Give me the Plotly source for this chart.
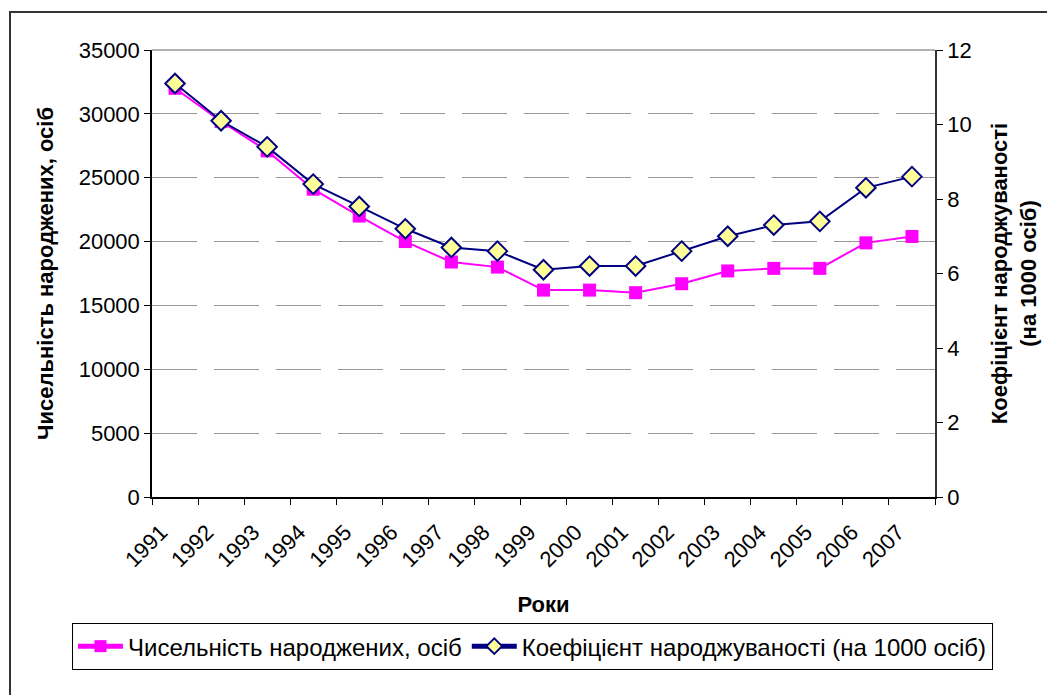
import plotly.graph_objects as go

years = [str(y) for y in range(1991, 2008)]
births = [32000, 29400, 27100, 24100, 22000, 20000, 18400, 18000, 16200,
          16200, 16000, 16700, 17700, 17900, 17900, 19900, 20400]
birth_rate = [11.1, 10.1, 9.4, 8.4, 7.8, 7.2, 6.7, 6.6, 6.1,
              6.2, 6.2, 6.6, 7.0, 7.3, 7.4, 8.3, 8.6]

name1 = "Чисельність народжених, осіб"
name2 = "Коефіцієнт народжуваності (на 1000 осіб)"

FONT = "Arial, Liberation Sans, sans-serif"
FS = 22

fig = go.Figure()
fig.add_trace(go.Scatter(
    x=years, y=births, name=name1, mode="lines+markers",
    line=dict(color="#FF00FF", width=2),
    marker=dict(symbol="square", size=13, color="#FF00FF"),
))
fig.add_trace(go.Scatter(
    x=years, y=birth_rate, name=name2, mode="lines+markers", yaxis="y2",
    line=dict(color="#000080", width=2),
    marker=dict(symbol="diamond", size=15, color="#FFFF99",
                line=dict(color="#000080", width=2)),
))

fig.update_layout(
    template="none",
    width=1055, height=695,
    paper_bgcolor="white", plot_bgcolor="white",
    font=dict(family=FONT, size=FS, color="black"),
    margin=dict(l=144, r=128, t=42, b=206, pad=0, autoexpand=False),
    xaxis=dict(
        type="category", range=[-0.5, 16.5], tickson="boundaries",
        ticks="outside", ticklen=6, tickcolor="black",
        showline=True, linecolor="black", linewidth=1.5,
        showgrid=False, tickangle=-45, automargin=False,
        ticklabelstandoff=12, ticklabelshift=-14,
        tickfont=dict(size=FS),
        title=dict(text="<b>Роки</b>", font=dict(size=FS), standoff=26),
    ),
    yaxis=dict(
        range=[0, 35000], dtick=5000, tickformat="d",
        ticks="outside", ticklen=6, tickcolor="black",
        showline=True, linecolor="black", linewidth=1.5,
        showgrid=True, gridcolor="#999999", gridwidth=1.3,
        griddash="45px,17px", zeroline=False, automargin=False,
        tickfont=dict(size=FS),
        title=dict(text="<b>Чисельність народжених, осіб</b>", font=dict(size=FS), standoff=19),
    ),
    yaxis2=dict(
        range=[0, 12], dtick=2, overlaying="y", side="right",
        ticks="outside", ticklen=6, tickcolor="black",
        showline=True, linecolor="#333333", linewidth=1.5,
        showgrid=False, zeroline=False, automargin=False,
        tickfont=dict(size=FS),
        title=dict(text="<b>Коефіцієнт народжуваності<br>(на 1000 осіб)</b>",
                   font=dict(size=FS), standoff=21),
    ),
    legend=dict(
        orientation="h", x=-0.1022, xanchor="left",
        y=-0.282, yanchor="top",
        bordercolor="black", borderwidth=1, font=dict(size=24),
        bgcolor="white", itemsizing="constant", itemwidth=45,
    ),
    showlegend=True,
    shapes=[
        dict(type="line", xref="paper", yref="paper", x0=0, x1=1, y0=1, y1=1,
             line=dict(color="#999999", width=1.3)),
        dict(type="rect", xref="paper", yref="paper",
             x0=(10 - 152) / 783, x1=(1070 - 152) / 783,
             y0=(497 - 710) / 447, y1=(497 - 12) / 447,
             line=dict(color="#333333", width=2), layer="below"),
    ],
)

fig.write_html("out.html")
